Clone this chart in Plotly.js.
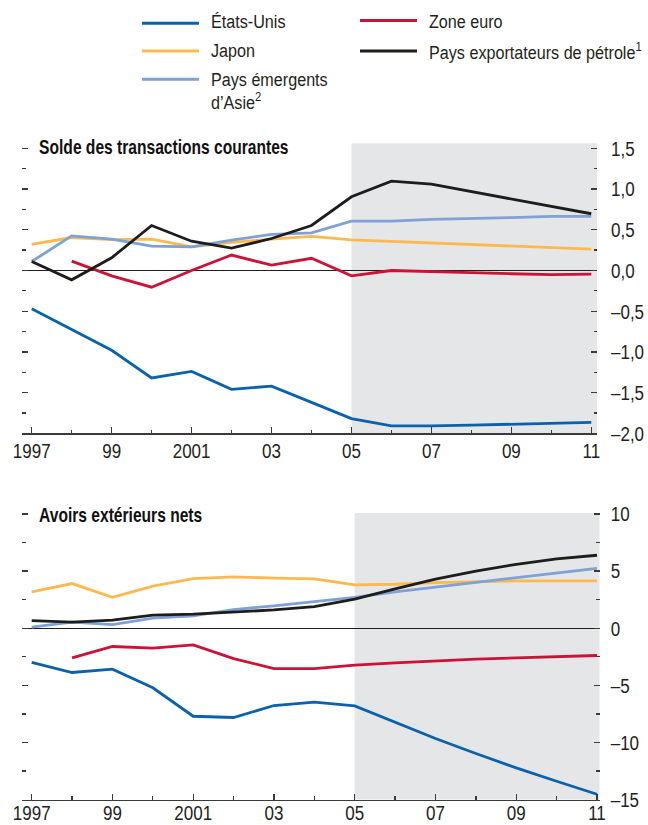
<!DOCTYPE html>
<html>
<head>
<meta charset="utf-8">
<script src="https://cdn.plot.ly/plotly-3.0.1.min.js"></script>
<style>
  html, body { margin: 0; padding: 0; background: #fff; }
  #chart { width: 648px; height: 825px; }
</style>
</head>
<body>
<div id="chart"></div>
<script>
// ---- Data ----
const years = [1997, 1998, 1999, 2000, 2001, 2002, 2003, 2004, 2005, 2006, 2007, 2008, 2009, 2010, 2011];

// Solde des transactions courantes
const usCA    = [-0.47, -0.72, -0.98, -1.32, -1.24, -1.46, -1.42, -1.62, -1.82, -1.91, -1.91, -1.90, -1.89, -1.88, -1.865];
const euroCA  = [null, 0.115, -0.066, -0.205, 0.0, 0.19, 0.066, 0.15, -0.066, 0.0, -0.008, -0.025, -0.04, -0.05, -0.045];
const japanCA = [0.32, 0.405, 0.38, 0.385, 0.29, 0.345, 0.385, 0.42, 0.377, 0.357, 0.34, 0.32, 0.30, 0.28, 0.262];
const asiaCA  = [0.11, 0.426, 0.385, 0.30, 0.29, 0.373, 0.443, 0.463, 0.607, 0.607, 0.627, 0.643, 0.65, 0.664, 0.664];
const oilCA   = [0.11, -0.115, 0.156, 0.553, 0.36, 0.275, 0.393, 0.553, 0.906, 1.098, 1.06, 0.967, 0.877, 0.787, 0.697];

// Avoirs extérieurs nets
const usNFA    = [-3.0, -3.88, -3.59, -5.22, -7.71, -7.82, -6.77, -6.48, -6.80, -8.26, -9.66, -10.97, -12.23, -13.4, -14.54];
const euroNFA  = [null, -2.6, -1.6, -1.75, -1.46, -2.66, -3.53, -3.53, -3.24, -3.04, -2.86, -2.71, -2.6, -2.48, -2.39];
const japanNFA = [3.18, 3.91, 2.71, 3.68, 4.35, 4.5, 4.38, 4.32, 3.79, 3.85, 4.0, 4.09, 4.14, 4.14, 4.14];
const asiaNFA  = [0.09, 0.53, 0.32, 0.88, 1.08, 1.63, 1.96, 2.31, 2.71, 3.18, 3.59, 4.0, 4.44, 4.85, 5.25];
const oilNFA   = [0.67, 0.53, 0.70, 1.14, 1.23, 1.43, 1.60, 1.90, 2.54, 3.44, 4.29, 4.99, 5.60, 6.07, 6.39];

const seriesNames = ["États-Unis", "Zone euro", "Japon", "Pays exportateurs de pétrole<sup>1</sup>", "Pays émergents", "d’Asie<sup>2</sup>"];
const panelTitles = ["Solde des transactions courantes", "Avoirs extérieurs nets"];

const xTickVals = [1997, 1999, 2001, 2003, 2005, 2007, 2009, 2011];
const xTickText = ["1997", "99", "2001", "03", "05", "07", "09", "11"];
const caTickVals = [1.5, 1.0, 0.5, 0.0, -0.5, -1.0, -1.5, -2.0];
const caTickText = ["1,5", "1,0", "0,5", "0,0", "–0,5", "–1,0", "–1,5", "–2,0"];
const nfaTickVals = [10, 5, 0, -5, -10, -15];
const nfaTickText = ["10", "5", "0", "–5", "–10", "–15"];

const projectionStart = 2005;

// ---- Styles ----
const FONT = "'Liberation Sans', Arial, sans-serif";
const TXT = "#231f20";
const colors = {
  us: "#0a62ad",
  euro: "#cc1236",
  japan: "#fdb94e",
  asia: "#7ea1d6",
  oil: "#1d1d1b"
};
const LW = 2.8;

function line(x, y, color, xa, ya) {
  return { x: x, y: y, type: "scatter", mode: "lines", xaxis: xa, yaxis: ya,
           line: { color: color, width: LW }, hoverinfo: "skip", showlegend: false };
}

const traces = [
  line(years, usCA, colors.us, "x", "y"),
  line(years, japanCA, colors.japan, "x", "y"),
  line(years, euroCA, colors.euro, "x", "y"),
  line(years, asiaCA, colors.asia, "x", "y"),
  line(years, oilCA, colors.oil, "x", "y"),
  line(years, usNFA, colors.us, "x2", "y2"),
  line(years, euroNFA, colors.euro, "x2", "y2"),
  line(years, japanNFA, colors.japan, "x2", "y2"),
  line(years, asiaNFA, colors.asia, "x2", "y2"),
  line(years, oilNFA, colors.oil, "x2", "y2")
];

const W = 648, H = 825;
const px = v => v / W;
const py = v => (H - v) / H;

function xaxisDef(domain, range, standoff) {
  return {
    domain: domain, range: range, fixedrange: true,
    showgrid: false, zeroline: false,
    showline: true, linecolor: "#3a3a3a", linewidth: 1.4,
    ticks: "inside", ticklen: 6, tickwidth: 1.3, tickcolor: "#3a3a3a",
    tickmode: "array", tickvals: xTickVals, ticktext: xTickText,
    minor: { tickmode: "linear", tick0: 1997, dtick: 1, ticks: "inside", ticklen: 3.5, tickwidth: 1.3, tickcolor: "#3a3a3a" },
    ticklabelstandoff: standoff,
    tickfont: { family: FONT, size: 21, color: TXT }
  };
}
function yaxisDef(domain, range, anchor, tv, tt, minorD, standoff) {
  return {
    domain: domain, range: range, anchor: anchor, side: "right", fixedrange: true,
    showgrid: false, showline: false,
    zeroline: true, zerolinecolor: "#1d1d1b", zerolinewidth: 1,
    ticks: "inside", ticklen: 6, tickwidth: 1.3, tickcolor: "#3a3a3a",
    mirror: "ticks",
    tickmode: "array", tickvals: tv, ticktext: tt,
    minor: { tickmode: "linear", tick0: 0, dtick: minorD, ticks: "inside", ticklen: 3.5, tickwidth: 1.3, tickcolor: "#3a3a3a" },
    ticklabelstandoff: standoff,
    tickfont: { family: FONT, size: 21, color: TXT }
  };
}

const caRange = [-2.0, 1.5625];
const nfaRange = [-15, 10.09];
const xRange1 = [1996.757, 2011.143];
const xRange2 = [1996.760, 2011.067];

// horizontal condensing factors (to mimic a condensed typeface)
const annScales = [];

const layout = {
  width: W, height: H,
  margin: { l: 0, r: 0, t: 0, b: 0, pad: 0 },
  paper_bgcolor: "#ffffff", plot_bgcolor: "rgba(0,0,0,0)",
  showlegend: false,
  xaxis: Object.assign(xaxisDef([px(22), px(597)], xRange1, -2), { anchor: "y" }),
  yaxis: yaxisDef([py(433.3), py(143.3)], caRange, "x", caTickVals, caTickText, 0.25, 13),
  xaxis2: Object.assign(xaxisDef([px(22), px(599.7)], xRange2, -6), { anchor: "y2" }),
  yaxis2: yaxisDef([py(799.5), py(513)], nfaRange, "x2", nfaTickVals, nfaTickText, 2.5, 10),
  shapes: [
    { type: "rect", layer: "below", xref: "x", yref: "y domain", x0: projectionStart, x1: xRange1[1], y0: 0, y1: 1,
      fillcolor: "#e5e6e8", line: { width: 0 } },
    { type: "rect", layer: "below", xref: "x2", yref: "y2 domain", x0: projectionStart, x1: xRange2[1], y0: 0, y1: 1,
      fillcolor: "#e5e6e8", line: { width: 0 } }
  ],
  annotations: []
};

function addAnn(text, x, y, size, scale, color) {
  layout.annotations.push({ xref: "paper", yref: "paper", x: px(x), y: py(y), xanchor: "left", yanchor: "middle",
    showarrow: false, text: text, font: { family: FONT, size: size, color: color || TXT } });
  annScales.push(scale);
}

addAnn("<b>" + panelTitles[0] + "</b>", 37, 146.5, 19.5, 0.80, "#111");
addAnn("<b>" + panelTitles[1] + "</b>", 37, 514.5, 19.5, 0.80, "#111");

// Legend (manual, two columns)
const legendItems = [
  { name: seriesNames[0], color: colors.us,    lx: 142, ly: 23.3, ty: 22 },
  { name: seriesNames[1], color: colors.euro,  lx: 360, ly: 20.5, ty: 22 },
  { name: seriesNames[2], color: colors.japan, lx: 142, ly: 51,   ty: 51 },
  { name: seriesNames[3], color: colors.oil,   lx: 360, ly: 51,   ty: 51 },
  { name: seriesNames[4], color: colors.asia,  lx: 142, ly: 79.3, ty: 80 }
];
legendItems.forEach(it => {
  layout.shapes.push({ type: "line", xref: "paper", yref: "paper",
    x0: px(it.lx), x1: px(it.lx + 57), y0: py(it.ly), y1: py(it.ly),
    line: { color: it.color, width: 3 } });
  addAnn(it.name, it.lx + 67, it.ty, 19, 0.85);
});
addAnn(seriesNames[5], 209, 100.5, 19, 0.85);

function condense(el, s, mode) {
  const bb = el.getBBox();
  const cx = mode === "center" ? bb.x + bb.width / 2 : bb.x;
  const prev = el.getAttribute("transform") || "";
  el.setAttribute("transform", (prev + " translate(" + cx + ",0) scale(" + s + ",1) translate(" + (-cx) + ",0)").trim());
}

Plotly.newPlot("chart", traces, layout, { staticPlot: true, displayModeBar: false }).then(gd => {
  gd.querySelectorAll("g.xtick text, g.x2tick text").forEach(t => condense(t, 0.81, "center"));
  gd.querySelectorAll("g.ytick text, g.y2tick text").forEach(t => condense(t, 0.81, "left"));
  gd.querySelectorAll("g.annotation").forEach(g => {
    const i = +g.getAttribute("data-index");
    const t = g.querySelector("text.annotation-text");
    if (t && annScales[i] != null) condense(t, annScales[i], "left");
  });
});
</script>
</body>
</html>
